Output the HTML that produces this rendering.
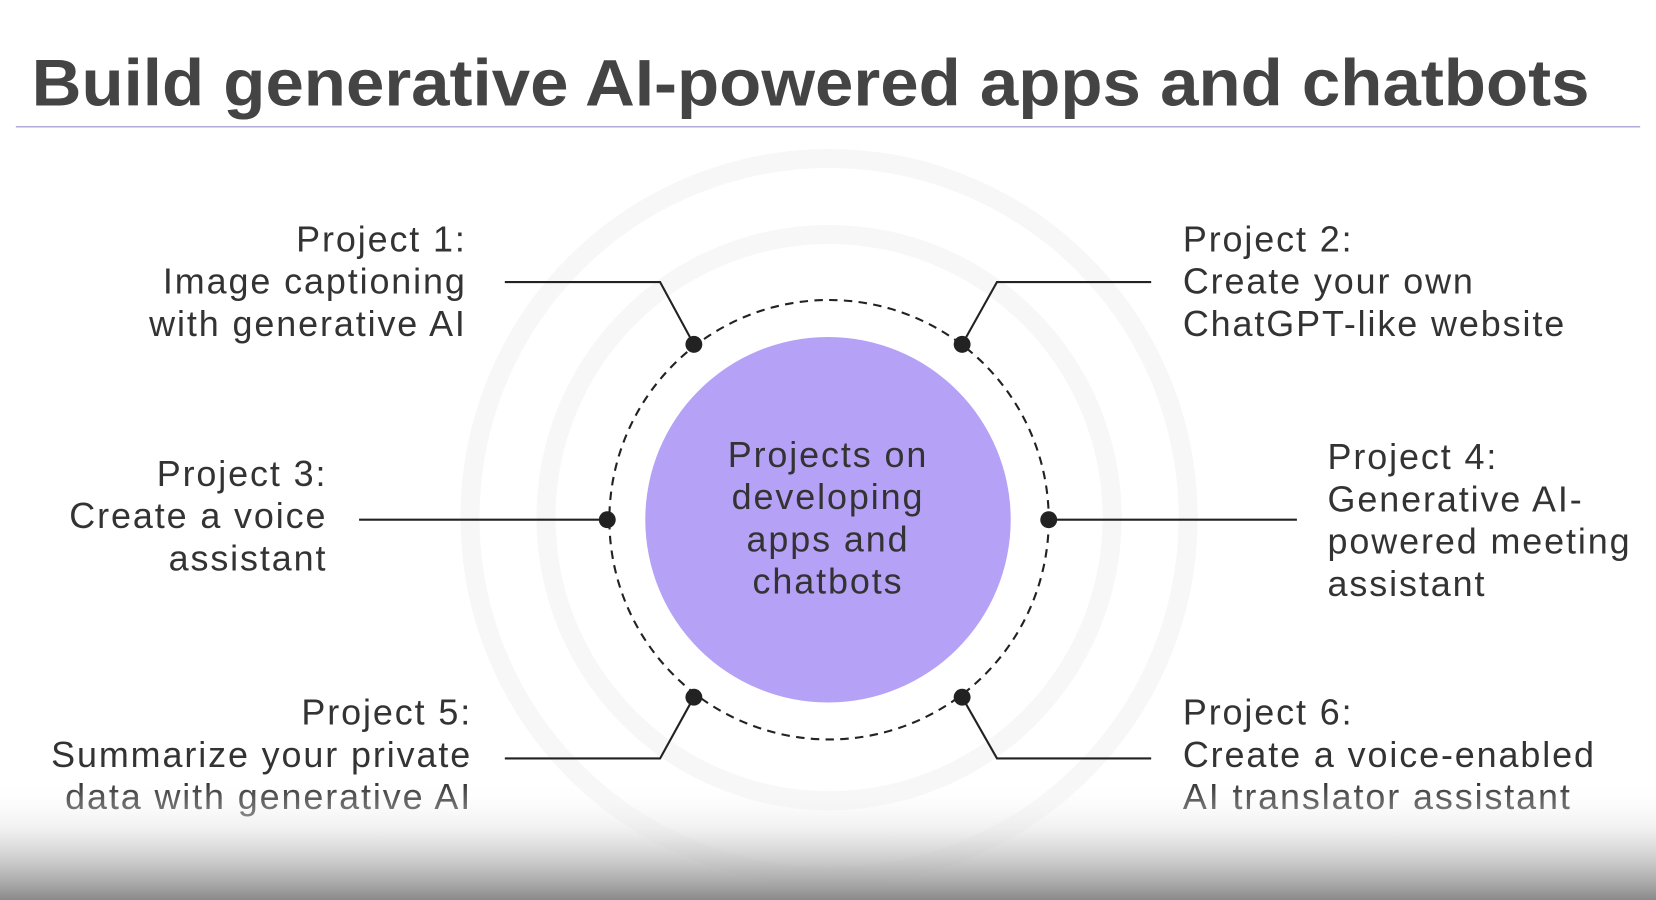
<!DOCTYPE html>
<html><head><meta charset="utf-8"><style>
html,body{margin:0;padding:0;background:#fff;}
svg{display:block;}
text{font-family:"Liberation Sans","DejaVu Sans",sans-serif;fill:#333;}
.t{letter-spacing:1.8px;}
</style></head><body>
<svg width="1656" height="900" viewBox="0 0 1568 852" preserveAspectRatio="none" xmlns="http://www.w3.org/2000/svg">
<defs>
<linearGradient id="bg" x1="0" y1="0" x2="0" y2="1">
<stop offset="0" stop-color="#ffffff" stop-opacity="0"/>
<stop offset="0.4" stop-color="#e6e6e6" stop-opacity="0.6"/>
<stop offset="1" stop-color="#8a8a8a"/>
</linearGradient>
</defs>
<rect width="1568" height="852" fill="#fff"/>
<circle cx="785" cy="490" r="340" fill="none" stroke="#f7f7f7" stroke-width="18"/>
<circle cx="785" cy="490" r="268" fill="none" stroke="#f7f7f7" stroke-width="18"/>
<text x="30" y="100" font-size="62" font-weight="bold" style="fill:#444" textLength="1475" lengthAdjust="spacingAndGlyphs">Build generative AI-powered apps and chatbots</text>
<line x1="15" y1="120" x2="1553" y2="120" stroke="#b3acd9" stroke-width="1.5"/>
<circle cx="785" cy="492" r="208" fill="none" stroke="#222" stroke-width="2" stroke-dasharray="8 6"/>
<circle cx="784" cy="492" r="173" fill="#b5a1f6"/>
<g font-size="34" text-anchor="middle" class="t">
<text x="784" y="442">Projects on</text>
<text x="784" y="482">developing</text>
<text x="784" y="522">apps and</text>
<text x="784" y="562">chatbots</text>
</g>
<g stroke="#222" stroke-width="2" fill="none">
<polyline points="478,267 625,267 657,326"/>
<polyline points="1090,267 944,267 911,326"/>
<line x1="340" y1="492" x2="575" y2="492"/>
<line x1="993" y1="492" x2="1228" y2="492"/>
<polyline points="478,718 625,718 657,660"/>
<polyline points="1090,718 944,718 911,660"/>
</g>
<g fill="#222">
<circle cx="657" cy="326" r="8"/><circle cx="911" cy="326" r="8"/>
<circle cx="575" cy="492" r="8"/><circle cx="993" cy="492" r="8"/>
<circle cx="657" cy="660" r="8"/><circle cx="911" cy="660" r="8"/>
</g>
<g font-size="34" text-anchor="end" class="t">
<text x="442" y="238">Project 1:</text>
<text x="442" y="278">Image captioning</text>
<text x="442" y="318">with generative AI</text>
<text x="310" y="460">Project 3:</text>
<text x="310" y="500">Create a voice</text>
<text x="310" y="540">assistant</text>
<text x="447" y="686">Project 5:</text>
<text x="447" y="726">Summarize your private</text>
<text x="447" y="766">data with generative AI</text>
</g>
<g font-size="34" class="t">
<text x="1120" y="238">Project 2:</text>
<text x="1120" y="278">Create your own</text>
<text x="1120" y="318">ChatGPT-like website</text>
<text x="1257" y="444">Project 4:</text>
<text x="1257" y="484">Generative AI-</text>
<text x="1257" y="524">powered meeting</text>
<text x="1257" y="564">assistant</text>
<text x="1120" y="686">Project 6:</text>
<text x="1120" y="726">Create a voice-enabled</text>
<text x="1120" y="766">AI translator assistant</text>
</g>
<rect x="0" y="740" width="1568" height="112" fill="url(#bg)"/>
</svg>
</body></html>
